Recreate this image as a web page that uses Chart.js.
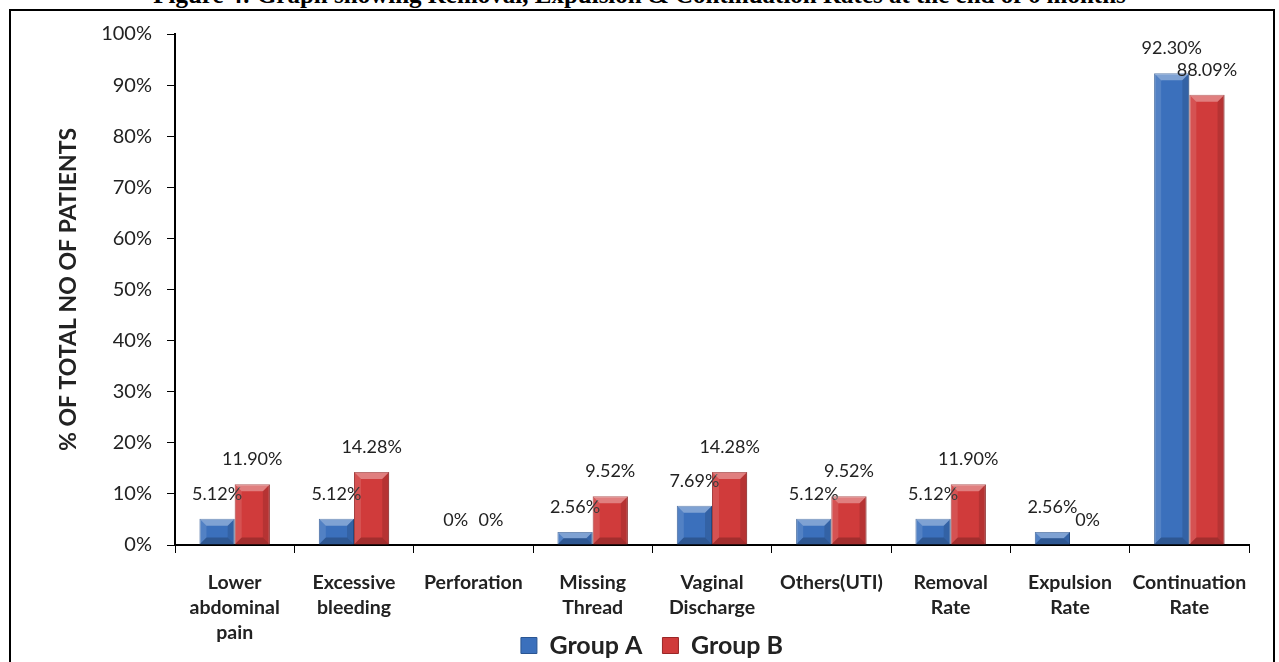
<!DOCTYPE html>
<html>
<head>
<meta charset="utf-8">
<script src="https://cdn.jsdelivr.net/npm/chart.js@4.4.1/dist/chart.umd.min.js"></script>
<style>
  html, body { margin: 0; padding: 0; background: #fff; overflow: hidden; }
  body { width: 1279px; height: 662px; position: relative; }
  .caption {
    position: absolute; left: 0; width: 1279px; top: -18px; text-align: center;
    font: bold 25px "Liberation Serif", serif; line-height: 25px; color: #000; white-space: nowrap;
  }
  .frame {
    position: absolute; left: 9px; top: 9px; width: 1266px; height: 700px;
    border: 2px solid #000; box-sizing: border-box;
  }
  .wrap { position: absolute; left: 11px; top: 7px; width: 1264px; height: 693px; }
</style>
</head>
<body>
<div class="caption">Figure 4: Graph showing Removal, Expulsion &amp; Continuation Rates at the end of 6 months</div>
<div class="frame"></div>
<div class="wrap"><canvas id="rateChart"></canvas></div>
<script>
// data
const categories = [
    ['Lower', 'abdominal', 'pain'], ['Excessive', 'bleeding'], 'Perforation', ['Missing', 'Thread'],
    ['Vaginal', 'Discharge'], 'Others(UTI)', ['Removal', 'Rate'], ['Expulsion', 'Rate'], ['Continuation', 'Rate']
];
const groupA = [5.12, 5.12, 0, 2.56, 7.69, 5.12, 5.12, 2.56, 92.30];
const groupB = [11.90, 14.28, 0, 9.52, 14.28, 9.52, 11.90, 0, 88.09];
const yTicks = [0, 10, 20, 30, 40, 50, 60, 70, 80, 90, 100];

const fmt = v => v === 0 ? '0%' : v.toFixed(2) + '%';

// legend sits up beside the last line of the x labels, a bit right of centre
const legendNudge = {
    id: 'legendNudge',
    afterLayout(chart) {
        const lg = chart.legend;
        if (!lg) return;
        lg.top -= 32; lg.bottom -= 32;
        lg.left += 22; lg.right += 22;
        lg.adjustHitBoxes && lg.adjustHitBoxes();
    }
};

// bevel look + value labels on top of every bar
const bevelLabels = {
    id: 'bevelLabels',
    afterDatasetsDraw(chart) {
        const ctx = chart.ctx;
        chart.data.datasets.forEach((ds, di) => {
            const meta = chart.getDatasetMeta(di);
            meta.data.forEach((bar, i) => {
                const p = bar.getProps(['x', 'y', 'base', 'width'], true);
                const l = p.x - p.width / 2, r = p.x + p.width / 2, t = p.y, b = p.base;
                const h = b - t;
                if (h > 0.5) {
                    const s = Math.min(7, h / 2, p.width / 2);
                    ctx.save();
                    // top facet
                    ctx.fillStyle = 'rgba(255,255,255,0.35)';
                    ctx.beginPath(); ctx.moveTo(l, t); ctx.lineTo(r, t); ctx.lineTo(r - s, t + s); ctx.lineTo(l + s, t + s); ctx.closePath(); ctx.fill();
                    // left facet
                    ctx.fillStyle = 'rgba(255,255,255,0.12)';
                    ctx.beginPath(); ctx.moveTo(l, t); ctx.lineTo(l + s, t + s); ctx.lineTo(l + s, b - s); ctx.lineTo(l, b); ctx.closePath(); ctx.fill();
                    // right facet
                    ctx.fillStyle = 'rgba(0,0,0,0.12)';
                    ctx.beginPath(); ctx.moveTo(r, t); ctx.lineTo(r - s, t + s); ctx.lineTo(r - s, b - s); ctx.lineTo(r, b); ctx.closePath(); ctx.fill();
                    // bottom facet
                    ctx.fillStyle = 'rgba(0,0,0,0.22)';
                    ctx.beginPath(); ctx.moveTo(l, b); ctx.lineTo(r, b); ctx.lineTo(r - s, b - s); ctx.lineTo(l + s, b - s); ctx.closePath(); ctx.fill();
                    ctx.restore();
                }
                ctx.save();
                ctx.font = '18px Lato, "Open Sans", sans-serif';
                ctx.fillStyle = '#222';
                ctx.textAlign = 'center';
                ctx.textBaseline = 'middle';
                ctx.fillText(fmt(ds.data[i]), p.x, t - 25);
                ctx.restore();
            });
        });
    }
};

const chartCanvas = document.getElementById('rateChart');
const ctx = chartCanvas.getContext('2d');

new Chart(ctx, {
    type: 'bar',
    data: {
        labels: categories,
        datasets: [{
            label: 'Group A',
            data: groupA,
            backgroundColor: '#3b70bc',
            borderColor: '#2a5592',
            borderWidth: 1
        }, {
            label: 'Group B',
            data: groupB,
            backgroundColor: '#d03b3b',
            borderColor: '#9a2626',
            borderWidth: 1
        }]
    },
    options: {
        responsive: true,
        maintainAspectRatio: false,
        animation: false,
        categoryPercentage: 0.59,
        barPercentage: 1,
        layout: { padding: { top: 14, right: 26, left: 0, bottom: 0 } },
        plugins: {
            legend: {
                position: 'bottom',
                labels: {
                    boxWidth: 16, boxHeight: 16, padding: 20,
                    color: '#222',
                    font: { family: 'Lato, "Open Sans", sans-serif', size: 25, weight: 'bold' }
                }
            },
            tooltip: { enabled: false }
        },
        scales: {
            x: {
                grid: { display: true, drawOnChartArea: false, color: '#000', tickLength: 8, offset: true },
                border: { color: '#000', width: 2 },
                ticks: {
                    autoSkip: false, maxRotation: 0, color: '#222', padding: 17,
                    font: { family: 'Lato, "Open Sans", sans-serif', size: 19.5, weight: 'bold', lineHeight: 1.28 }
                },
                afterFit(scale) { scale.height = 100; }
            },
            y: {
                min: 0, max: 100,
                afterBuildTicks(scale) { scale.ticks = yTicks.map(v => ({ value: v })); },
                grid: { display: true, drawOnChartArea: false, color: '#000', tickLength: 8 },
                border: { color: '#000', width: 2 },
                ticks: {
                    color: '#222', padding: 15,
                    font: { family: 'Lato, "Open Sans", sans-serif', size: 20 },
                    callback: v => v + '%'
                },
                title: {
                    display: true, text: '% OF TOTAL NO OF PATIENTS', color: '#222',
                    font: { family: 'Lato, "Open Sans", sans-serif', size: 23, weight: 'bold' },
                    padding: { top: 44, bottom: 10 }
                },
                afterFit(scale) { scale.width = 164; }
            }
        }
    },
    plugins: [bevelLabels, legendNudge]
});
</script>
</body>
</html>
